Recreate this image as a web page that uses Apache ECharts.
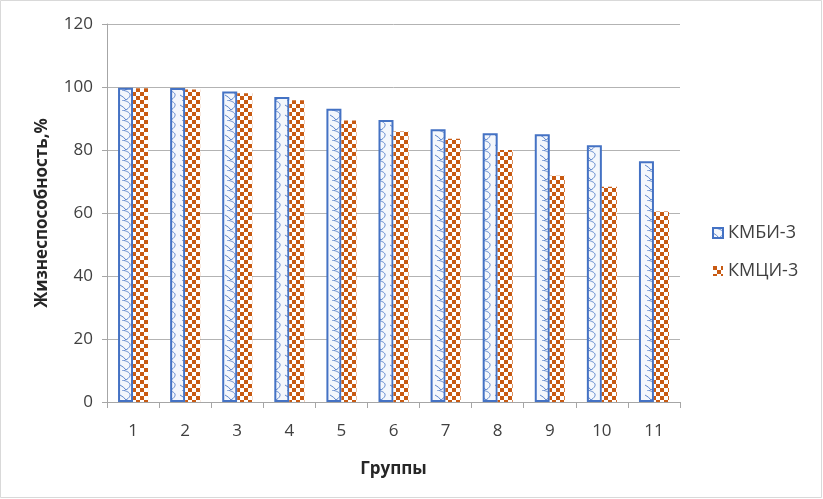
<!DOCTYPE html>
<html>
<head>
<meta charset="utf-8">
<script src="https://cdn.jsdelivr.net/npm/echarts@6/dist/echarts.min.js"></script>
<style>
html,body{margin:0;padding:0;background:#fff;}
#chart{width:823px;height:499px;}
</style>
</head>
<body>
<div id="chart"></div>
<script>
const categories = ['1','2','3','4','5','6','7','8','9','10','11'];
const kmbi = [99.8, 99.7, 98.6, 96.8, 93.1, 89.5, 86.6, 85.3, 85.0, 81.5, 76.4];
const kmci = [99.6, 99.2, 98.0, 95.8, 89.4, 85.9, 83.6, 80.0, 71.8, 68.3, 60.5];
const seriesNames = ['КМБИ-3', 'КМЦИ-3'];
const yTicks = [0, 20, 40, 60, 80, 100, 120];

function wavePattern() {
  const c = document.createElement('canvas');
  c.width = 15; c.height = 10;
  const g = c.getContext('2d');
  g.fillStyle = '#f4f7fc';
  g.fillRect(0, 0, 15, 10);
  g.strokeStyle = '#5b84cc';
  g.lineWidth = 1;
  g.beginPath();
  g.moveTo(2, 0);
  g.bezierCurveTo(12, 2, 12, 6, 6, 10);
  g.stroke();
  g.beginPath();
  g.moveTo(0, 5);
  g.quadraticCurveTo(4, 7, 6, 10);
  g.stroke();
  return c;
}
function checkPattern() {
  const c = document.createElement('canvas');
  c.width = 8; c.height = 8;
  const g = c.getContext('2d');
  g.fillStyle = '#ffffff';
  g.fillRect(0, 0, 8, 8);
  g.fillStyle = '#c85a12';
  g.fillRect(0, 0, 4, 4);
  g.fillRect(4, 4, 4, 4);
  return c;
}

const chart = echarts.init(document.getElementById('chart'));
const font = '"Open Sans", "Liberation Sans", sans-serif';
chart.setOption({
  animation: false,
  backgroundColor: '#ffffff',
  graphic: [{
    type: 'rect', shape: {x: 0.5, y: 0.5, width: 821, height: 497},
    style: {fill: 'none', stroke: '#d9d9d9', lineWidth: 1}, silent: true
  }],
  grid: {left: 107, right: 143, top: 24, bottom: 97},
  legend: {
    orient: 'vertical', left: 707, top: 219, itemGap: 20,
    itemWidth: 10, itemHeight: 10, icon: 'rect',
    textStyle: {fontFamily: font, fontSize: 18, color: '#404040'},
    data: seriesNames
  },
  xAxis: {
    type: 'category', data: categories,
    name: 'Группы', nameLocation: 'middle', nameGap: 59,
    nameTextStyle: {fontFamily: font, fontSize: 17, fontWeight: 'bold', color: '#262626'},
    axisLine: {lineStyle: {color: '#a6a6a6'}},
    axisTick: {show: true, length: 6, lineStyle: {color: '#a6a6a6'}},
    axisLabel: {fontFamily: font, fontSize: 17, color: '#404040', margin: 21}
  },
  yAxis: {
    type: 'value', min: 0, max: 120, interval: 20,
    name: 'Жизнеспособность,%', nameLocation: 'middle', nameGap: 56,
    nameTextStyle: {fontFamily: font, fontSize: 17, fontWeight: 'bold', color: '#262626'},
    axisLine: {show: true, lineStyle: {color: '#a6a6a6'}},
    axisTick: {show: true, length: 5, lineStyle: {color: '#a6a6a6'}},
    splitLine: {lineStyle: {color: '#b3b3b3'}},
    axisLabel: {fontFamily: font, fontSize: 17, color: '#404040', margin: 14,
      formatter: v => yTicks.includes(v) ? String(v) : ''}
  },
  series: [
    {
      name: seriesNames[0], type: 'bar', data: kmbi,
      barWidth: 15, barGap: '0%',
      itemStyle: {color: {image: wavePattern(), repeat: 'repeat'}, borderColor: '#4472c4', borderWidth: 2}
    },
    {
      name: seriesNames[1], type: 'bar', data: kmci,
      barWidth: 15, barGap: '0%',
      itemStyle: {color: {image: checkPattern(), repeat: 'repeat'}}
    }
  ]
});
</script>
</body>
</html>
